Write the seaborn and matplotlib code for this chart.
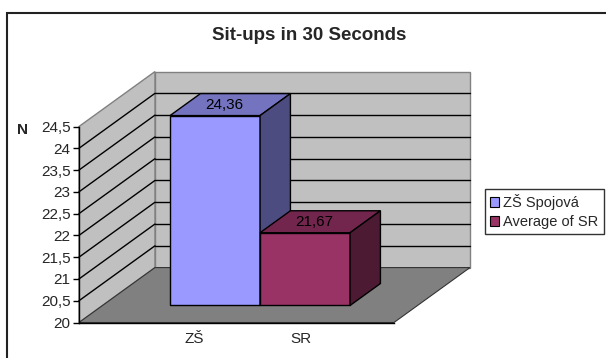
import matplotlib
matplotlib.use("Agg")
import matplotlib.pyplot as plt
from matplotlib.patches import Polygon, Patch, Rectangle
import seaborn as sns
import pandas as pd

# data
categories = ["ZŠ", "SR"]
series = ["ZŠ Spojová", "Average of SR"]
values = [24.36, 21.67]
y_ticks = [20, 20.5, 21, 21.5, 22, 22.5, 23, 23.5, 24, 24.5]

front_colors = ["#9999FF", "#993366"]
top_colors = ["#7373BF", "#73264D"]
side_colors = ["#4C4C80", "#4D1A33"]

sns.set_theme(style="white")
plt.rcParams["font.family"] = ["Liberation Sans", "DejaVu Sans"]

W, H = 606, 358
fig = plt.figure(figsize=(W / 100, H / 100), dpi=100)
ax = fig.add_axes([79 / W, (H - 322.5) / H, 315 / W, 196 / H])
ax.set_facecolor("none")

df = pd.DataFrame({"cat": categories, "series": series, "value": values})
sns.barplot(data=df, x="cat", y="value", hue="series", dodge=False,
            palette=front_colors, saturation=1, width=1.0, edgecolor="black",
            linewidth=1, legend=False, ax=ax)

floor = y_ticks[0]
top = y_ticks[-1]
xmin, xmax = -1.25, 2.25
ax.set_xlim(xmin, xmax)
ax.set_ylim(floor, top)

# depth offset (full depth) in data units
ddx, ddy = 0.844, 1.261
d0, d1 = 0.31, 0.71

# walls and floor
wall = "#C0C0C0"
ax.add_patch(Polygon([(xmin + ddx, floor + ddy), (xmax + ddx, floor + ddy),
                      (xmax + ddx, top + ddy), (xmin + ddx, top + ddy)],
                     closed=True, fc=wall, ec="#808080", lw=1, zorder=0.5, clip_on=False))
ax.add_patch(Polygon([(xmin, floor), (xmin, top), (xmin + ddx, top + ddy),
                      (xmin + ddx, floor + ddy)],
                     closed=True, fc=wall, ec="#808080", lw=1, zorder=0.5, clip_on=False))
for v in y_ticks[1:-1]:
    ax.plot([xmin + ddx, xmax + ddx], [v + ddy, v + ddy], color="black", lw=1,
            zorder=0.8, clip_on=False)
    ax.plot([xmin, xmin + ddx], [v, v + ddy], color="black", lw=1,
            zorder=0.8, clip_on=False)
ax.add_patch(Polygon([(xmin, floor), (xmax, floor), (xmax + ddx, floor + ddy),
                      (xmin + ddx, floor + ddy)],
                     closed=True, fc="#808080", ec="#333333", lw=0.8, zorder=1, clip_on=False))

# extrude the seaborn bars into boxes
bars = [b for c in ax.containers for b in c]
for i, p in enumerate(bars):
    x0, w, h = p.get_x(), p.get_width(), p.get_height()
    p.set_xy((x0 + d0 * ddx, floor + d0 * ddy))
    p.set_height(h - floor)
    p.set_clip_on(False)
    p.set_zorder(3 + 2 * i)
    ax.add_patch(Polygon([(x0 + d0 * ddx, h + d0 * ddy), (x0 + w + d0 * ddx, h + d0 * ddy),
                          (x0 + w + d1 * ddx, h + d1 * ddy), (x0 + d1 * ddx, h + d1 * ddy)],
                         closed=True, fc=top_colors[i], ec="black", lw=1,
                         zorder=3 + 2 * i, clip_on=False))
    ax.add_patch(Polygon([(x0 + w + d0 * ddx, floor + d0 * ddy), (x0 + w + d0 * ddx, h + d0 * ddy),
                          (x0 + w + d1 * ddx, h + d1 * ddy), (x0 + w + d1 * ddx, floor + d1 * ddy)],
                         closed=True, fc=side_colors[i], ec="black", lw=1,
                         zorder=3 + 2 * i, clip_on=False))
    dm = (d0 + d1) / 2
    ax.text(x0 + w / 2 + dm * ddx - 0.07, h + dm * ddy, f"{values[i]:g}".replace(".", ","),
            ha="center", va="center", fontsize=11, color="black", zorder=20)

# axes styling
for s in ["top", "right"]:
    ax.spines[s].set_visible(False)
for s in ["left", "bottom"]:
    ax.spines[s].set_color("black")
    ax.spines[s].set_linewidth(1)
    ax.spines[s].set_zorder(2)
ax.set_yticks(y_ticks)
ax.set_yticklabels([f"{v:g}".replace(".", ",") for v in y_ticks], fontsize=11)
ax.tick_params(axis="y", left=True, length=4, width=1, color="black", pad=2)
ax.set_xticks([0.03, 1.22])
ax.set_xticklabels(categories, fontsize=11)
ax.tick_params(axis="x", bottom=False, pad=0.5)
ax.set_xlabel("")
ax.set_ylabel("")

fig.text(309 / W, 1 - 36 / H, "Sit-ups in 30 Seconds", ha="center", va="center",
         fontsize=13.5, fontweight="bold")
fig.text(23 / W, 1 - 130 / H, "N", ha="center", va="center", fontsize=11, fontweight="bold")

handles = [Patch(fc=c, ec="black", lw=0.8) for c in front_colors]
leg = ax.legend(handles, series, loc="upper left", bbox_to_anchor=(485 / W, 1 - 189 / H),
                bbox_transform=fig.transFigure, borderaxespad=0, frameon=True,
                fancybox=False, fontsize=10.5, handlelength=0.6, handleheight=0.6,
                handletextpad=0.3, labelspacing=0.35, borderpad=0.35)
leg.get_frame().set_edgecolor("black")
leg.get_frame().set_linewidth(1)

# chart border
fig.patches.append(Rectangle((7 / W, -0.1), 1.2, (H - 13) / H + 0.1, transform=fig.transFigure,
                             fill=False, ec="#222222", lw=1.5))

fig.savefig("out.png", dpi=100)
